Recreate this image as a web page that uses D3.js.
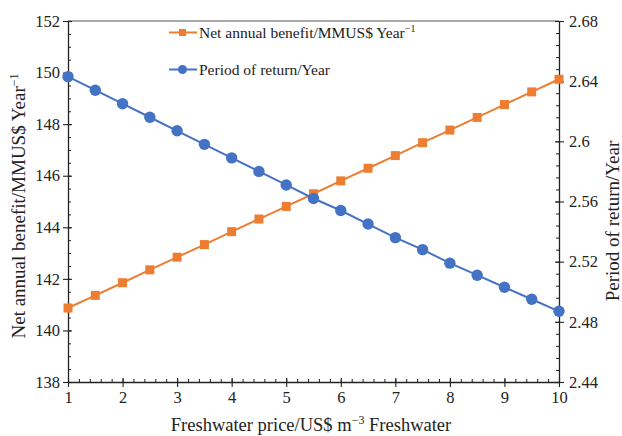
<!DOCTYPE html>
<html><head><meta charset="utf-8">
<script src="https://cdn.jsdelivr.net/npm/d3@7"></script>
<style>body{margin:0;background:#fff}svg{display:block}text{font-family:"Liberation Serif","Times New Roman",serif;fill:#222}</style>
</head><body>
<svg id="c" width="622" height="436"></svg>
<script>
const price = [1,1.5,2,2.5,3,3.5,4,4.5,5,5.5,6,6.5,7,7.5,8,8.5,9,9.5,10];
const benefit = [140.87,141.36,141.85,142.35,142.84,143.33,143.83,144.32,144.81,145.30,145.80,146.29,146.78,147.28,147.77,148.26,148.76,149.25,149.74];
const period = [2.643,2.634,2.625,2.616,2.607,2.598,2.589,2.580,2.571,2.562,2.554,2.545,2.536,2.528,2.519,2.511,2.503,2.495,2.487];
const xTicks = [1,2,3,4,5,6,7,8,9,10];
const yLeftTicks = [138,140,142,144,146,148,150,152];
const yRightTicks = [2.44,2.48,2.52,2.56,2.6,2.64,2.68];
const names = ["Net annual benefit/MMUS$ Year", "Period of return/Year"];

const L=68,R=559,T=21,B=382;
const svg=d3.select("#c");
const x=d3.scaleLinear().domain([1,10]).range([L,R]);
const yl=d3.scaleLinear().domain([138,152]).range([B,T]);
const yr=d3.scaleLinear().domain([2.44,2.68]).range([B,T]);
const orange="#ED7D31", blue="#4472C4", axc="#222";

// top border
svg.append("line").attr("x1",L).attr("x2",R).attr("y1",T).attr("y2",T).attr("stroke","#555").attr("stroke-width",1);

function styleAxis(g){g.select(".domain").attr("stroke",axc).attr("stroke-width",1.3);g.selectAll("line").attr("stroke",axc).attr("stroke-width",1.1);g.selectAll("text").style("font-size","16.5px").style("font-family",'"Liberation Serif",serif').attr("fill","#222");}

// minor ticks
const xMinor=d3.range(1,10.001,0.2), ylMinor=d3.range(138,152.001,0.5), yrMinor=d3.range(2.44,2.6801,0.008);
svg.append("g").attr("transform",`translate(0,${B})`).call(d3.axisBottom(x).tickValues(xMinor).tickSize(-3).tickFormat("")).call(g=>{g.select(".domain").remove();g.selectAll("line").attr("stroke",axc);});
svg.append("g").attr("transform",`translate(${L},0)`).call(d3.axisLeft(yl).tickValues(ylMinor).tickSize(-3).tickFormat("")).call(g=>{g.select(".domain").remove();g.selectAll("line").attr("stroke",axc);});
svg.append("g").attr("transform",`translate(${R},0)`).call(d3.axisRight(yr).tickValues(yrMinor).tickSize(-3).tickFormat("")).call(g=>{g.select(".domain").remove();g.selectAll("line").attr("stroke",axc);});

// major axes
const gx=svg.append("g").attr("transform",`translate(0,${B})`).call(d3.axisBottom(x).tickValues(xTicks).tickSizeInner(5).tickSizeOuter(0).tickPadding(4).tickFormat(d3.format("d")));
styleAxis(gx);
gx.selectAll(".tick line").attr("y1",-4);
const gl=svg.append("g").attr("transform",`translate(${L},0)`).call(d3.axisLeft(yl).tickValues(yLeftTicks).tickSizeInner(5).tickSizeOuter(0).tickPadding(3).tickFormat(d3.format("d")));
styleAxis(gl);
gl.selectAll(".tick line").attr("x1",4);
const gr=svg.append("g").attr("transform",`translate(${R},0)`).call(d3.axisRight(yr).tickValues(yRightTicks).tickSizeInner(5).tickSizeOuter(0).tickPadding(5).tickFormat(d=>String(+d.toFixed(2))));
styleAxis(gr);
gr.selectAll(".tick line").attr("x1",-4);

// lines
const lineB=d3.line().x((d,i)=>x(price[i])).y(d=>yl(d));
const lineP=d3.line().x((d,i)=>x(price[i])).y(d=>yr(d));
svg.append("path").datum(benefit).attr("d",lineB).attr("fill","none").attr("stroke",orange).attr("stroke-width",2);
svg.append("path").datum(period).attr("d",lineP).attr("fill","none").attr("stroke",blue).attr("stroke-width",2);
svg.append("g").selectAll("rect").data(benefit).join("rect").attr("x",(d,i)=>x(price[i])-4.5).attr("y",d=>yl(d)-4.5).attr("width",9).attr("height",9).attr("fill",orange);
svg.append("g").selectAll("circle").data(period).join("circle").attr("cx",(d,i)=>x(price[i])).attr("cy",d=>yr(d)).attr("r",5.7).attr("fill",blue);

// legend
const lg=svg.append("g");
lg.append("line").attr("x1",169).attr("x2",197).attr("y1",32.5).attr("y2",32.5).attr("stroke",orange).attr("stroke-width",2);
lg.append("rect").attr("x",179).attr("y",29).attr("width",7).attr("height",7).attr("fill",orange);
const t1=lg.append("text").attr("x",199).attr("y",37.5).style("font-size","15.5px");
t1.append("tspan").text(names[0]);
t1.append("tspan").attr("dy",-6).style("font-size","10px").text("−1");
lg.append("line").attr("x1",169).attr("x2",197).attr("y1",69.5).attr("y2",69.5).attr("stroke",blue).attr("stroke-width",2);
lg.append("circle").attr("cx",182.5).attr("cy",69.5).attr("r",4.5).attr("fill",blue);
lg.append("text").attr("x",199).attr("y",74.5).style("font-size","15.5px").text(names[1]);

// axis titles
const xt=svg.append("text").attr("x",311).attr("y",431).attr("text-anchor","middle").style("font-size","18.5px");
xt.append("tspan").text("Freshwater price/US$ m");
xt.append("tspan").attr("dy",-7).style("font-size","12px").text("−3");
xt.append("tspan").attr("dy",7).text(" Freshwater");
const ylt=svg.append("text").attr("transform",`translate(25,206) rotate(-90)`).attr("text-anchor","middle").style("font-size","19px");
ylt.append("tspan").text("Net annual benefit/MMUS$ Year");
ylt.append("tspan").attr("dy",-7).style("font-size","12px").text("−1");
svg.append("text").attr("transform",`translate(619,221) rotate(-90)`).attr("text-anchor","middle").style("font-size","19px").text("Period of return/Year");
</script>
</body></html>
